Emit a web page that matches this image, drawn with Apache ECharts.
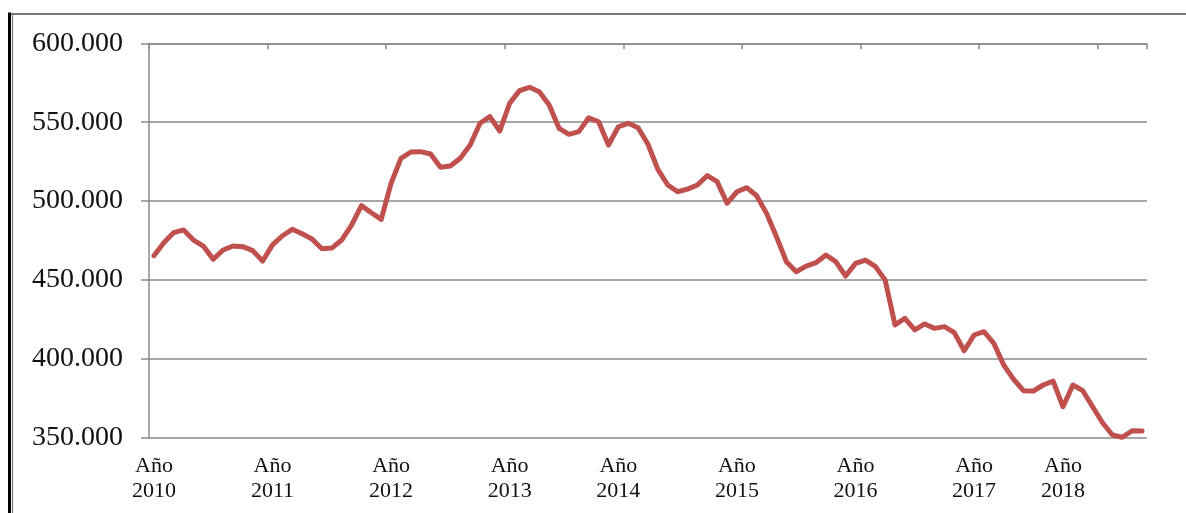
<!DOCTYPE html>
<html>
<head>
<meta charset="utf-8">
<script src="https://cdn.jsdelivr.net/npm/echarts@6/dist/echarts.min.js"></script>
<style>
html,body{margin:0;padding:0;background:#fff;}
#c{width:1186px;height:513px;}
</style>
</head>
<body>
<div id="c"></div>
<script>
// Values in thousands (label 600.000 = 600 thousand)
const values = [
  465.4, 473.6, 480.0, 481.7, 475.3, 471.5, 463.1, 469.0, 471.5, 471.1, 468.6, 462.0,
  472.2, 478.0, 482.1, 479.3, 476.0, 469.8, 470.2, 475.3, 484.8, 497.1, 492.6, 488.4,
  511.3, 527.1, 531.1, 531.3, 529.8, 521.4, 522.2, 527.1, 535.5, 549.3, 553.5, 544.4,
  562.0, 570.0, 572.1, 569.3, 560.9, 546.1, 542.3, 544.0, 552.8, 550.3, 535.5, 547.1,
  549.3, 546.5, 536.0, 520.1, 510.2, 505.9, 507.6, 510.2, 516.1, 512.3, 498.6, 505.9,
  508.5, 503.4, 492.2, 477.4, 461.6, 455.2, 458.8, 460.9, 465.8, 461.6, 452.5, 460.5,
  462.6, 458.6, 450.0, 421.4, 425.7, 418.3, 422.1, 419.3, 420.4, 416.6, 405.1, 415.1,
  417.2, 409.8, 396.1, 387.0, 379.8, 379.6, 383.4, 385.9, 369.6, 383.4, 379.8, 369.6,
  359.5, 351.7, 350.3, 354.4, 354.2
];
const yearLabels = ['Año\n2010','Año\n2011','Año\n2012','Año\n2013','Año\n2014','Año\n2015','Año\n2016','Año\n2017','Año\n2018'];
const yearLabelIndex = [0, 12, 24, 36, 47, 59, 71, 83, 92];
const yMin = 350, yMax = 600, yStep = 50;

const categories = values.map((v, i) => 'p' + i);
const labelAt = {};
yearLabelIndex.forEach((idx, k) => { labelAt[idx] = yearLabels[k]; });

const grey = '#8a8a8a';
const chart = echarts.init(document.getElementById('c'));
chart.setOption({
  animation: false,
  backgroundColor: '#fff',
  grid: { left: 149, right: 39, top: 43.3, bottom: 75.3, containLabel: false },
  xAxis: [{
    type: 'category',
    data: categories,
    position: 'bottom',
    boundaryGap: true,
    axisLine: { show: false },
    axisTick: { show: false },
    axisLabel: {
      interval: (i) => labelAt[i] !== undefined,
      formatter: (v, i) => labelAt[i] || '',
      color: '#111',
      fontFamily: 'Liberation Serif',
      fontSize: 22,
      lineHeight: 25,
      margin: 16
    }
  }, {
    type: 'category',
    data: categories,
    position: 'top',
    boundaryGap: true,
    axisLine: { show: true, lineStyle: { color: grey, width: 1.5 } },
    axisTick: { show: true, inside: true, interval: (i) => i % 12 === 0 && i <= 96, length: 6, lineStyle: { color: grey, width: 1.5 } },
    axisLabel: { show: false }
  }],
  yAxis: {
    type: 'value',
    min: yMin, max: yMax, interval: yStep,
    axisLine: { show: true, lineStyle: { color: grey, width: 1.5 } },
    axisTick: { show: true, length: 8, lineStyle: { color: grey, width: 1.5 } },
    splitLine: { show: true, lineStyle: { color: grey, width: 1.5 } },
    axisLabel: {
      formatter: (v) => v + '.000',
      color: '#111',
      fontFamily: 'Liberation Serif',
      fontSize: 28,
      margin: 26
    }
  },
  series: [{
    type: 'line',
    data: values,
    xAxisIndex: 0,
    showSymbol: false,
    symbol: 'none',
    lineStyle: { color: '#C0504D', width: 5, cap: 'round', join: 'round' }
  }],
  graphic: [
    { type: 'line', shape: { x1: 9.5, y1: 12.5, x2: 9.5, y2: 513 }, style: { stroke: '#000', lineWidth: 3 } },
    { type: 'line', shape: { x1: 12.5, y1: 14, x2: 12.5, y2: 513 }, style: { stroke: '#777', lineWidth: 1.2 } },
    { type: 'line', shape: { x1: 11, y1: 14, x2: 1186, y2: 14 }, style: { stroke: '#7a7a7a', lineWidth: 2 } }
  ]
});
</script>
</body>
</html>
